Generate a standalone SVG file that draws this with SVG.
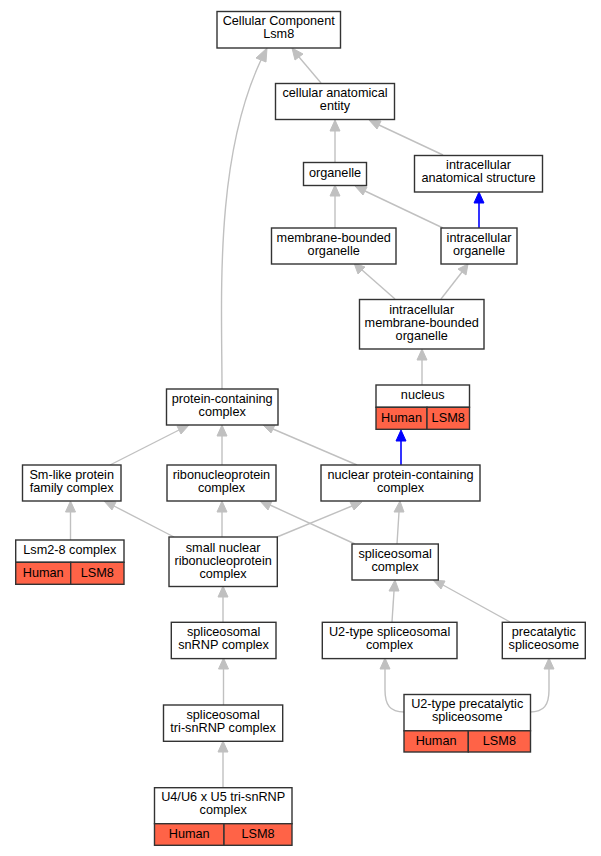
<svg xmlns="http://www.w3.org/2000/svg" width="601" height="856" viewBox="0 0 601 856">
<style>
.b{fill:#fff;stroke:#333;stroke-width:1.4}
.c{fill:#ff6347;stroke:#333;stroke-width:1.4}
text{font-family:"Liberation Sans",Arial,sans-serif;font-size:12.7px;text-anchor:middle;fill:#000;transform:translateY(-1px)}
.e{fill:none;stroke:#c0c0c0;stroke-width:1.4}
.a{fill:#c0c0c0;stroke:#c0c0c0}
.eb{fill:none;stroke:#0000ff;stroke-width:1.6}
.ab{fill:#0000ff;stroke:#0000ff}
</style>
<rect width="601" height="856" fill="#fff"/>
<g id="edges">
<path class="e" d="M321,83 L299,57"/><polygon class="a" points="292,48 295,60 303,54"/>
<path class="e" d="M222,389 C222,300 214,160 261,60"/><polygon class="a" points="267,48 256,58 266,62"/>
<path class="e" d="M335,162 L335,131"/><polygon class="a" points="335,120 330,131 340,131"/>
<path class="e" d="M443,155 L379,125"/><polygon class="a" points="369,120 377,129 381,121"/>
<path class="e" d="M335,228 L335,196"/><polygon class="a" points="335,185 330,196 340,196"/>
<path class="e" d="M443,228 L365,191"/><polygon class="a" points="355,186 363,195 367,187"/>
<path class="eb" d="M479,228 L479,203"/><polygon class="ab" points="479,192 474,203 484,203"/>
<path class="e" d="M395,299 L362,270"/><polygon class="a" points="354,263 358,274 365,267"/>
<path class="e" d="M441,299 L462,272"/><polygon class="a" points="468,264 458,269 466,275"/>
<path class="e" d="M422,385 L422,360"/><polygon class="a" points="422,349 417,360 427,360"/>
<path class="eb" d="M401,465 L401,441"/><polygon class="ab" points="401,430 396,441 406,441"/>
<path class="e" d="M357,465 L273,429"/><polygon class="a" points="263,425 271,433 275,425"/>
<path class="e" d="M110,465 L179,430"/><polygon class="a" points="189,425 177,426 181,434"/>
<path class="e" d="M222,465 L222,436"/><polygon class="a" points="222,425 217,436 227,436"/>
<path class="e" d="M70.5,540 L70.5,512"/><polygon class="a" points="70.5,501 65.5,512 75.5,512"/>
<path class="e" d="M174,537 L114,506"/><polygon class="a" points="104,501 112,510 116,502"/>
<path class="e" d="M222,537 L222,512"/><polygon class="a" points="222,501 217,512 227,512"/>
<path class="e" d="M277,537 L352,506"/><polygon class="a" points="362,502 350,502 354,510"/>
<path class="e" d="M355,544 L270,505"/><polygon class="a" points="260,501 268,510 272,501"/>
<path class="e" d="M397,544 L399,512"/><polygon class="a" points="400,501 394,512 404,512"/>
<path class="e" d="M223,622 L223,597"/><polygon class="a" points="223,586 218,597 228,597"/>
<path class="e" d="M392,622 L394,591"/><polygon class="a" points="395,580 389,591 399,591"/>
<path class="e" d="M510,622 L443,585"/><polygon class="a" points="433,580 441,589 445,581"/>
<path class="e" d="M404,712 C390,712 385,705 385,690 L385,669"/><polygon class="a" points="385,658 380,669 390,669"/>
<path class="e" d="M530,712 C544,712 549,705 549,690 L549,669"/><polygon class="a" points="549,658 544,669 554,669"/>
<path class="e" d="M223.5,705 L223.5,669"/><polygon class="a" points="223.5,658 218.5,669 228.5,669"/>
<path class="e" d="M223,787 L223,752"/><polygon class="a" points="223,741 218,752 228,752"/>
</g>
<g id="n_cc"><rect class="b" x="217" y="11.5" width="123.5" height="36.5"/><text x="278.7" y="26">Cellular Component</text><text x="278.7" y="39">Lsm8</text></g>
<g id="n_cae"><rect class="b" x="275.5" y="83.5" width="119" height="36"/><text x="335" y="98">cellular anatomical</text><text x="335" y="111">entity</text></g>
<g id="n_org"><rect class="b" x="303.5" y="162.5" width="63" height="23"/><text x="335" y="177.5">organelle</text></g>
<g id="n_ias"><rect class="b" x="414.5" y="155.5" width="128" height="36.5"/><text x="478.5" y="170">intracellular</text><text x="478.5" y="183">anatomical structure</text></g>
<g id="n_mbo"><rect class="b" x="271.5" y="228" width="124.5" height="36"/><text x="333.7" y="242.5">membrane-bounded</text><text x="333.7" y="255.5">organelle</text></g>
<g id="n_io"><rect class="b" x="441" y="228" width="76" height="36"/><text x="479" y="242.5">intracellular</text><text x="479" y="255.5">organelle</text></g>
<g id="n_imbo"><rect class="b" x="359.5" y="299.5" width="124.5" height="49.5"/><text x="421.7" y="315">intracellular</text><text x="421.7" y="328">membrane-bounded</text><text x="421.7" y="341">organelle</text></g>
<g id="n_nuc"><rect class="b" x="376" y="385" width="93.5" height="22.3"/><text x="422.7" y="400">nucleus</text><rect class="c" x="376" y="407.3" width="51" height="22"/><rect class="c" x="427" y="407.3" width="42.5" height="22"/><text x="401.5" y="422.5">Human</text><text x="448.2" y="422.5">LSM8</text></g>
<g id="n_pcc"><rect class="b" x="166.5" y="389" width="111.5" height="36"/><text x="222.2" y="403.5">protein-containing</text><text x="222.2" y="416.5">complex</text></g>
<g id="n_sml"><rect class="b" x="22.5" y="465" width="98.5" height="36"/><text x="71.7" y="479.5">Sm-like protein</text><text x="71.7" y="492.5">family complex</text></g>
<g id="n_rnp"><rect class="b" x="167" y="465" width="109" height="36"/><text x="221.5" y="479.5">ribonucleoprotein</text><text x="221.5" y="492.5">complex</text></g>
<g id="n_npc"><rect class="b" x="321" y="465" width="159" height="36"/><text x="400.5" y="479.5">nuclear protein-containing</text><text x="400.5" y="492.5">complex</text></g>
<g id="n_lsm"><rect class="b" x="15.7" y="540" width="108.3" height="22.3"/><text x="69.8" y="555">Lsm2-8 complex</text><rect class="c" x="15.7" y="562.3" width="55" height="22"/><rect class="c" x="70.7" y="562.3" width="53.3" height="22"/><text x="43.2" y="577.5">Human</text><text x="97.3" y="577.5">LSM8</text></g>
<g id="n_snrnp"><rect class="b" x="169" y="537" width="108.3" height="49.5"/><text x="223.1" y="552.5">small nuclear</text><text x="223.1" y="565.5">ribonucleoprotein</text><text x="223.1" y="578.5">complex</text></g>
<g id="n_spc"><rect class="b" x="352" y="544" width="86.3" height="36"/><text x="395.1" y="558.5">spliceosomal</text><text x="395.1" y="571.5">complex</text></g>
<g id="n_ssnrnp"><rect class="b" x="171.3" y="622.3" width="104.7" height="36.3"/><text x="223.6" y="636.8">spliceosomal</text><text x="223.6" y="649.8">snRNP complex</text></g>
<g id="n_u2"><rect class="b" x="322.3" y="622.3" width="134.7" height="36.3"/><text x="389.6" y="636.8">U2-type spliceosomal</text><text x="389.6" y="649.8">complex</text></g>
<g id="n_pre"><rect class="b" x="502.3" y="622.3" width="83" height="36.3"/><text x="543.8" y="636.8">precatalytic</text><text x="543.8" y="649.8">spliceosome</text></g>
<g id="n_u2pre"><rect class="b" x="404" y="694.5" width="126.5" height="36.3"/><text x="467.2" y="709">U2-type precatalytic</text><text x="467.2" y="722">spliceosome</text><rect class="c" x="404" y="730.8" width="64.3" height="21.2"/><rect class="c" x="468.3" y="730.8" width="62.2" height="21.2"/><text x="436.1" y="745.5">Human</text><text x="499.4" y="745.5">LSM8</text></g>
<g id="n_tri"><rect class="b" x="163.5" y="705" width="119.2" height="36.3"/><text x="223.1" y="719.5">spliceosomal</text><text x="223.1" y="732.5">tri-snRNP complex</text></g>
<g id="n_u4"><rect class="b" x="154.5" y="787.7" width="137.5" height="36"/><text x="223.2" y="802.2">U4/U6 x U5 tri-snRNP</text><text x="223.2" y="815.2">complex</text><rect class="c" x="154.5" y="823.7" width="69.5" height="21.6"/><rect class="c" x="224" y="823.7" width="68" height="21.6"/><text x="189.2" y="838.7">Human</text><text x="258" y="838.7">LSM8</text></g>
</svg>
